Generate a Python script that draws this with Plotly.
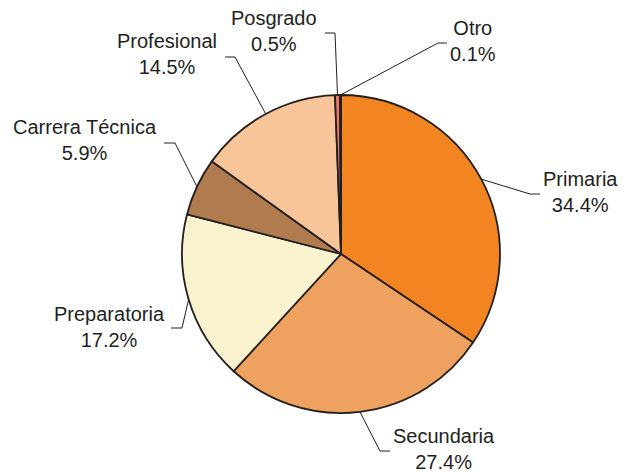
import math
import plotly.graph_objects as go

# ---- data ----
categories = ["Primaria", "Secundaria", "Preparatoria", "Carrera Técnica",
              "Profesional", "Posgrado", "Otro"]
percentages = [34.4, 27.4, 17.2, 5.9, 14.5, 0.5, 0.1]
pct_labels = ["34.4%", "27.4%", "17.2%", "5.9%", "14.5%", "0.5%", "0.1%"]

# ---- style ----
colors = ["#F28522", "#EFA160", "#F8F2CF", "#B07B4E", "#F8C59B", "#EC7B6C", "#3A2A26"]
W, H = 631, 472
CX, CY, R = 341, 254, 159          # pie centre / radius in pixels
TEXT = "#231F20"
FONT = dict(family="Liberation Sans, Arial, Helvetica, sans-serif", size=20, color=TEXT)

# label placement (pixels): text centre, elbow point, end of horizontal tick
label_pos = {
    "Primaria":        dict(t=(580, 192), elbow=(530, 194), end=(540, 194)),
    "Secundaria":      dict(t=(444, 449), elbow=(380, 451), end=(390, 451)),
    "Preparatoria":    dict(t=(109, 327), elbow=(182, 328), end=(171, 328)),
    "Carrera Técnica": dict(t=(85, 140), elbow=(175, 143), end=(164, 143)),
    "Profesional":     dict(t=(167, 54), elbow=(235, 57), end=(225, 57)),
    "Posgrado":        dict(t=(274, 31), elbow=(335, 33), end=(325, 33)),
    "Otro":            dict(t=(473, 41), elbow=(438, 43), end=(447, 43)),
}

fig = go.Figure()
fig.add_trace(go.Pie(
    labels=categories, values=percentages, sort=False, direction="clockwise",
    rotation=0, textinfo="none", hoverinfo="skip", showlegend=False,
    marker=dict(colors=colors, line=dict(color=TEXT, width=1.8)),
    domain=dict(x=[(CX - R) / W, (CX + R) / W], y=[1 - (CY + R) / H, 1 - (CY - R) / H]),
))

total = sum(percentages)
cum = 0.0
shapes, annotations = [], []
for cat, v, lab in zip(categories, percentages, pct_labels):
    mid = (cum + v / 2) / total * 2 * math.pi
    cum += v
    ex = CX + R * math.sin(mid)
    ey = CY - R * math.cos(mid)
    p = label_pos[cat]
    path = f"M {ex:.2f} {ey:.2f} L {p['elbow'][0]} {p['elbow'][1]} L {p['end'][0]} {p['end'][1]}"
    shapes.append(dict(type="path", path=path, xref="x", yref="y",
                       line=dict(color=TEXT, width=1)))
    annotations.append(dict(x=p["t"][0], y=p["t"][1], xref="x", yref="y",
                            text=f"{cat}<br>{lab}", showarrow=False, align="center",
                            xanchor="center", yanchor="middle", font=FONT))

fig.add_trace(go.Scatter(x=[0, W], y=[0, H], mode="markers",
                         marker=dict(opacity=0), hoverinfo="skip", showlegend=False))

fig.update_layout(
    width=W, height=H, autosize=False,
    margin=dict(l=0, r=0, t=0, b=0),
    paper_bgcolor="white", plot_bgcolor="rgba(0,0,0,0)",
    xaxis=dict(range=[0, W], visible=False, domain=[0, 1], fixedrange=True),
    yaxis=dict(range=[H, 0], visible=False, domain=[0, 1], fixedrange=True),
    shapes=shapes, annotations=annotations,
)

fig.write_html("out.html", config={"displayModeBar": False},
               post_script="document.body.style.margin='0';document.body.style.overflow='hidden';")
